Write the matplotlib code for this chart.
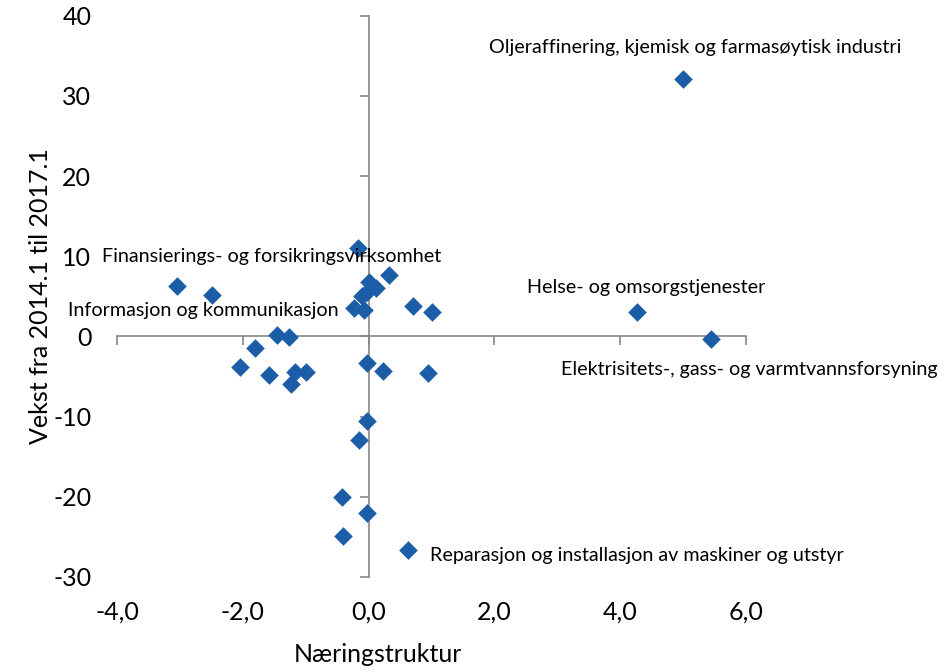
import matplotlib
matplotlib.use('Agg')
import matplotlib.pyplot as plt
from matplotlib.ticker import FuncFormatter, MultipleLocator

plt.rcParams['font.family'] = ['Lato', 'DejaVu Sans']

# naeringsstruktur (x) og vekst 2014.1-2017.1 (y)
x_vals = [5.0, 4.27, 5.44, 0.63, -3.04, -2.49,
          -0.17, 0.32, 0.0, 0.11, -0.03, -0.10, -0.24, -0.08, 0.71, 1.01,
          -1.45, -1.27, -1.81, -2.05, -1.59, -1.17, -0.99, -1.23,
          -0.03, 0.23, 0.95, -0.03, -0.16, -0.43, -0.03, -0.40]
y_vals = [32.1, 3.1, -0.3, -26.6, 6.3, 5.2,
          11.0, 7.7, 6.8, 6.0, 5.6, 5.0, 3.5, 3.3, 3.8, 3.0,
          0.2, -0.1, -1.5, -3.8, -4.8, -4.4, -4.4, -5.9,
          -3.3, -4.3, -4.6, -10.6, -12.9, -20.0, -22.0, -24.9]

labels = {
    0: 'Oljeraffinering, kjemisk og farmasøytisk industri',
    1: 'Helse- og omsorgstjenester',
    2: 'Elektrisitets-, gass- og varmtvannsforsyning',
    3: 'Reparasjon og installasjon av maskiner og utstyr',
    4: 'Finansierings- og forsikringsvirksomhet',
    5: 'Informasjon og kommunikasjon',
}
# offset (points) and alignment for each label
label_pos = {
    0: ((8.6, 23), 'center'),
    1: ((6.5, 17), 'center'),
    2: ((28, -22), 'center'),
    3: ((16, -4), 'left'),
    4: ((68, 21), 'center'),
    5: ((-6, -11.5), 'center'),
}

axis_grey = '#868686'
point_col = '#1B5DA6'

fig = plt.figure(figsize=(9.53, 6.71), dpi=100)
rect = [117 / 953, 1 - 577 / 671, 629 / 953, 561.3 / 671]
ax = fig.add_axes(rect)
ax.set_xlim(-4, 6)
ax.set_ylim(-30, 40)
ax.xaxis.set_major_locator(MultipleLocator(2))
ax.yaxis.set_major_locator(MultipleLocator(10))
ax.xaxis.set_major_formatter(FuncFormatter(lambda v, p: ('%.1f' % v).replace('.', ',')))
ax.yaxis.set_major_formatter(FuncFormatter(lambda v, p: '%d' % v))
for s in ax.spines.values():
    s.set_visible(False)
ax.tick_params(axis='both', length=0, labelsize=18, colors='black')
ax.tick_params(axis='x', pad=17)
ax.tick_params(axis='y', pad=18.5)
ax.set_ylabel('Vekst fra 2014.1 til 2017.1', fontsize=18)
ax.yaxis.set_label_coords(-0.104, 0.5)
ax.set_xlabel('Næringstruktur', fontsize=18)
ax.xaxis.set_label_coords(0.415, -0.118)
ax.patch.set_visible(False)

# axes crossing at origin
ax2 = fig.add_axes(rect, sharex=ax, sharey=ax)
ax2.patch.set_visible(False)
ax2.spines['left'].set_position(('data', 0))
ax2.spines['bottom'].set_position(('data', 0))
ax2.spines['top'].set_visible(False)
ax2.spines['right'].set_visible(False)
for s in ['left', 'bottom']:
    ax2.spines[s].set_color(axis_grey)
    ax2.spines[s].set_linewidth(1.2)
ax2.tick_params(axis='both', direction='out', length=6.5, width=1.2, color=axis_grey,
                labelleft=False, labelbottom=False)

ax2.scatter(x_vals, y_vals, marker='D', s=90, color=point_col, linewidths=0, zorder=3)

for i, txt in labels.items():
    off, ha = label_pos[i]
    ax2.annotate(txt, (x_vals[i], y_vals[i]), xytext=off, textcoords='offset points',
                 ha=ha, va='center', fontsize=14.2, color='black', zorder=4)

plt.savefig('out.png', dpi=100)
